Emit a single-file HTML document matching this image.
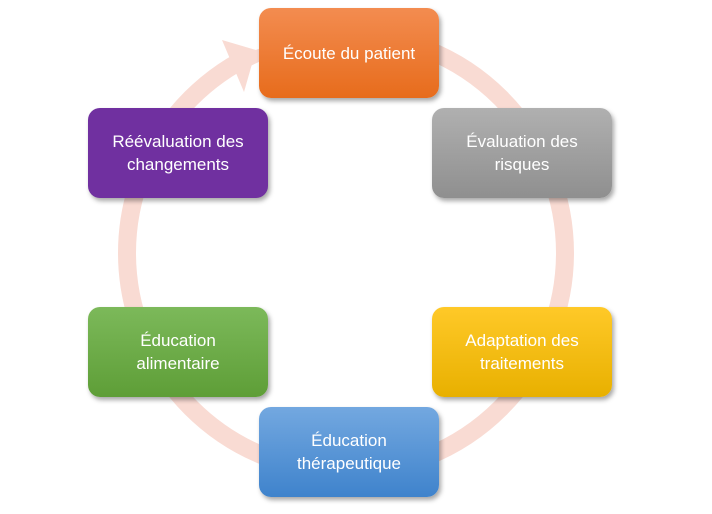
<!DOCTYPE html>
<html><head><meta charset="utf-8"><style>
body{margin:0;width:712px;height:514px;background:#fff;position:relative;overflow:hidden;font-family:"Liberation Sans",sans-serif}
.b{position:absolute;width:180px;height:90px;border-radius:12px;color:#fff;font-size:17px;line-height:23px;display:flex;align-items:center;justify-content:center;text-align:center;box-shadow:2px 3px 5px rgba(0,0,0,.35)}
</style></head><body>
<svg width="712" height="514" style="position:absolute;left:0;top:0">
<circle cx="346" cy="253" r="219" fill="none" stroke="#f9dbd3" stroke-width="18"/>
<rect x="238" y="20" width="30" height="30" fill="#fff" transform="rotate(-20 253 35)"/>
<polygon points="222,40 256,50 244,92" fill="#f9dbd3"/>
</svg>
<div class="b" style="left:259px;top:8px;background:linear-gradient(#f38c50,#e76c1c)">Écoute du patient</div>
<div class="b" style="left:432px;top:108px;background:linear-gradient(#b0b0b0,#8f8f8f)">Évaluation des<br>risques</div>
<div class="b" style="left:432px;top:307px;background:linear-gradient(#ffc928,#e8b000)">Adaptation des<br>traitements</div>
<div class="b" style="left:259px;top:407px;background:linear-gradient(#73a8e0,#3f83cc)">Éducation<br>thérapeutique</div>
<div class="b" style="left:88px;top:307px;background:linear-gradient(#7cb95a,#5e9e37)">Éducation<br>alimentaire</div>
<div class="b" style="left:88px;top:108px;background:#7030a0">Réévaluation des<br>changements</div>
</body></html>
